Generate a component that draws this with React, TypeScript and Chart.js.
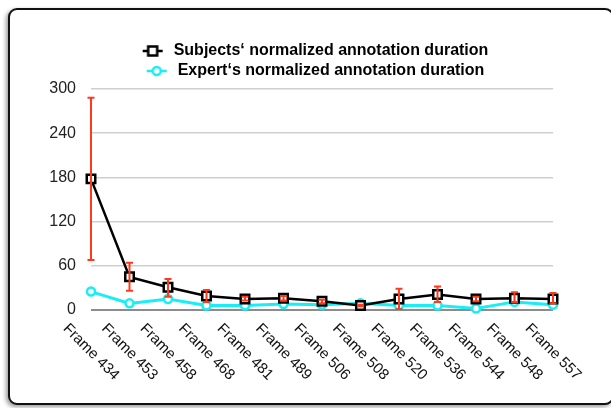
import React, { useEffect, useRef } from "react";
import { Chart, registerables } from "chart.js";

Chart.register(...registerables);

const frameLabels = [
  "Frame 434", "Frame 453", "Frame 458", "Frame 468", "Frame 481", "Frame 489",
  "Frame 506", "Frame 508", "Frame 520", "Frame 536", "Frame 544", "Frame 548", "Frame 557",
];
const subjectsMean = [178, 45, 31, 19, 15, 16, 12, 6, 15, 21, 15, 16, 15];
const subjectsLow = [68, 26, 18, 11, 13, 13, 9, 5, 1, 11, 12, 11, 9];
const subjectsHigh = [288, 64, 42, 27, 18, 19, 14, 7, 29, 32, 18, 24, 23];
const expertValues = [25, 9, 15, 6, 6, 8, 7, 9, 6, 6, 2, 11, 7];
const yTickValues = [0, 60, 120, 180, 240, 300];

const seriesNames = [
  "Subjects\u2018 normalized annotation duration",
  "Expert\u2018s normalized annotation duration",
];

const FONT = '"Liberation Sans", Arial, Helvetica, sans-serif';
const CYAN = "#17eef6";
const RED = "#ff3a1c";

function makeMarker(kind: "rect" | "circle", color: string) {
  const c = document.createElement("canvas");
  c.width = 22;
  c.height = 14;
  const g = c.getContext("2d")!;
  g.strokeStyle = color;
  g.lineWidth = 2.5;
  g.beginPath();
  g.moveTo(1, 7);
  g.lineTo(21, 7);
  g.stroke();
  g.fillStyle = "#fff";
  if (kind === "rect") {
    g.fillRect(6.5, 2.5, 9, 9);
    g.strokeRect(6.5, 2.5, 9, 9);
  } else {
    g.beginPath();
    g.arc(11, 7, 4, 0, Math.PI * 2);
    g.fill();
    g.stroke();
  }
  return c;
}

const errorBarsPlugin = {
  id: "errorBars",
  afterDatasetsDraw(chart: any) {
    const meta = chart.getDatasetMeta(0);
    const y = chart.scales.y;
    const ctx = chart.ctx;
    ctx.save();
    ctx.strokeStyle = RED;
    ctx.lineWidth = 2;
    meta.data.forEach((pt: any, i: number) => {
      const x = pt.x;
      const yl = y.getPixelForValue(subjectsLow[i]);
      const yh = y.getPixelForValue(subjectsHigh[i]);
      ctx.beginPath();
      ctx.moveTo(x, yh);
      ctx.lineTo(x, yl);
      ctx.moveTo(x - 3.5, yh);
      ctx.lineTo(x + 3.5, yh);
      ctx.moveTo(x - 3.5, yl);
      ctx.lineTo(x + 3.5, yl);
      ctx.stroke();
    });
    ctx.restore();
  },
};

const xLabelsPlugin = {
  id: "rotatedXLabels",
  afterDraw(chart: any) {
    const xs = chart.scales.x;
    const ctx = chart.ctx;
    const yCenter = chart.chartArea.bottom + 42;
    ctx.save();
    ctx.fillStyle = "#111";
    ctx.font = `15px ${FONT}`;
    ctx.textAlign = "center";
    ctx.textBaseline = "middle";
    frameLabels.forEach((lab, i) => {
      const x = xs.getPixelForValue(i);
      ctx.save();
      ctx.translate(x, yCenter);
      ctx.rotate(Math.PI / 4);
      ctx.fillText(lab, 0, 0);
      ctx.restore();
    });
    ctx.restore();
  },
};

export default function App() {
  const ref = useRef<HTMLCanvasElement | null>(null);

  useEffect(() => {
    if (!ref.current) return;
    const markers = [makeMarker("rect", "#000"), makeMarker("circle", CYAN)];
    const chart = new Chart(ref.current, {
      type: "line",
      data: {
        labels: frameLabels,
        datasets: [
          {
            label: seriesNames[0],
            data: subjectsMean,
            borderColor: "#000",
            borderWidth: 2.5,
            pointStyle: "rect",
            pointRadius: 6,
            pointBorderWidth: 2.5,
            pointBackgroundColor: "#fff",
            pointBorderColor: "#000",
            tension: 0,
            clip: false as any,
          },
          {
            label: seriesNames[1],
            data: expertValues,
            borderColor: CYAN,
            borderWidth: 3,
            pointStyle: "circle",
            pointRadius: 4,
            pointBorderWidth: 2.5,
            pointBackgroundColor: "#fff",
            pointBorderColor: CYAN,
            tension: 0,
            clip: false as any,
          },
        ],
      },
      options: {
        animation: false,
        responsive: false,
        layout: { padding: { top: 39, left: 41, right: 24, bottom: 98 } },
        plugins: {
          tooltip: { enabled: false },
          legend: {
            position: "top",
            labels: {
              usePointStyle: true,
              pointStyleWidth: 26,
              boxHeight: 14,
              padding: 4,
              color: "#000",
              font: { family: FONT, size: 16, weight: "bold" },
              generateLabels(ch: any) {
                const items = (Chart as any).defaults.plugins.legend.labels.generateLabels(ch);
                return items.map((it: any, i: number) => ({ ...it, pointStyle: markers[i] }));
              },
            },
          },
        },
        scales: {
          x: {
            type: "category",
            offset: false,
            grid: { display: false, drawTicks: false },
            border: { display: false },
            ticks: { display: false },
            afterFit(s: any) {
              s.height = 0;
            },
          },
          y: {
            min: 0,
            max: 300,
            afterBuildTicks(s: any) {
              s.ticks = yTickValues.map((v) => ({ value: v }));
            },
            afterFit(s: any) {
              s.width = 50;
            },
            border: { display: false },
            grid: {
              drawTicks: false,
              color: (c: any) => (c.tick && c.tick.value === 0 ? "#8c8c8c" : "#cfcfcf"),
              lineWidth: (c: any) => (c.tick && c.tick.value === 0 ? 2 : 1.5),
            },
            ticks: {
              padding: 15,
              color: "#222",
              font: { family: FONT, size: 16 },
            },
          },
          yRightSpacer: {
            type: "linear",
            position: "right",
            min: 0,
            max: 1,
            grid: { display: false, drawTicks: false },
            border: { display: false },
            ticks: { display: false },
            afterFit(s: any) {
              s.width = 34;
            },
          },
        },
      },
      plugins: [errorBarsPlugin, xLabelsPlugin],
    } as any);
    return () => chart.destroy();
  }, []);

  return (
    <div style={{ position: "absolute", left: 0, top: 0, width: 611, height: 408, overflow: "hidden", background: "#fff" }}>
      <div
        style={{
          position: "absolute",
          left: 8,
          top: 8,
          width: 606,
          height: 397,
          boxSizing: "border-box",
          border: "2px solid #111",
          borderRadius: 9,
          boxShadow: "-2px 2px 4px rgba(0,0,0,0.4)",
          background: "#fff",
        }}
      />
      <canvas
        ref={ref}
        width={611}
        height={408}
        style={{ position: "absolute", left: 0, top: 0, width: 611, height: 408 }}
      />
    </div>
  );
}
